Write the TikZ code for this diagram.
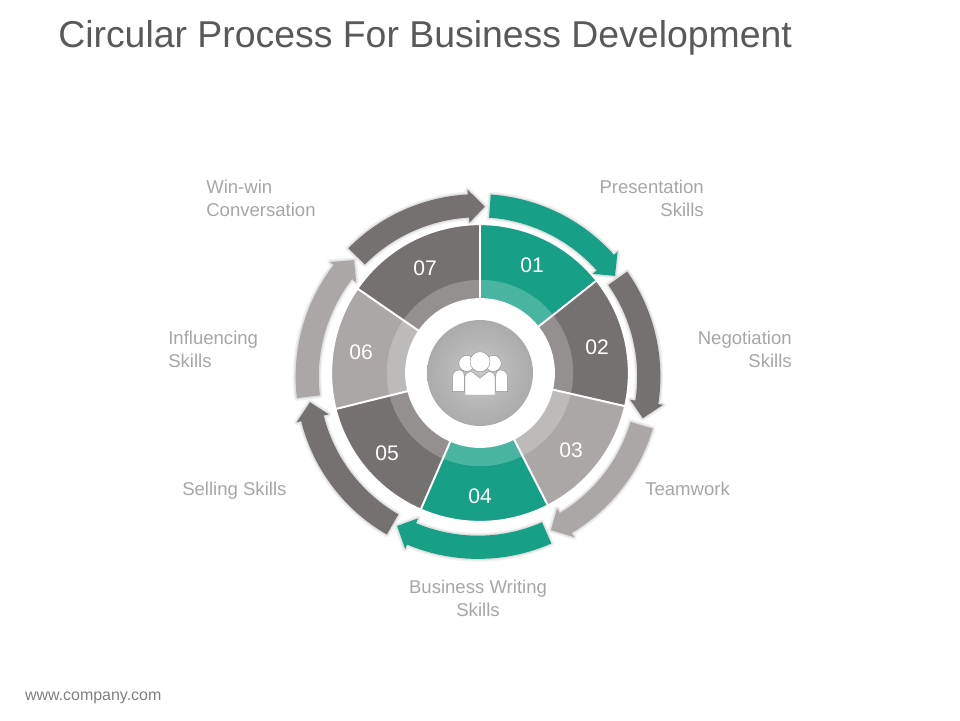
\documentclass[tikz,border=0pt]{standalone}
\usepackage{fontspec}
\setmainfont{Liberation Sans}
\usepackage{xcolor}
\usepackage{tikz}
\definecolor{tealpart}{HTML}{17A085}
\definecolor{darkpart}{HTML}{767171}
\definecolor{lightpart}{HTML}{ABA7A7}
\definecolor{titlegray}{HTML}{595959}
\definecolor{labelgray}{HTML}{A6A6A6}
\definecolor{footgray}{HTML}{7F7F7F}
\tikzset{
    softshadow/.style = {
        preaction={draw=black,opacity=0.05,line width=4pt,line join=round},
        preaction={draw=black,opacity=0.08,line width=2pt,line join=round}},
    mynum/.style = {text=white,font=\fontsize{15}{17}\selectfont},
    mylabel/.style = {text=labelgray,inner sep=0pt,font=\fontsize{13.2}{16.4}\selectfont},
    myperson/.style = {fill=white,draw=black!45,line width=0.3pt},
}
% one sector of the wheel: turn clockwise from the top, its width, its colour
\newcommand{\sectorpart}[3]{
\begin{scope}[shift={(c)},rotate=-#1]
\fill[#3,draw=white,line width=1.3pt] (90:3.72) arc[start angle=90,delta angle=-#2,radius=3.72] -- (90-#2:1.85) arc[start angle=90-#2,delta angle=#2,radius=1.85] -- cycle;
\fill[white,opacity=0.22] (90:2.33) arc[start angle=90,delta angle=-#2,radius=2.33] -- (90-#2:1.87) arc[start angle=90-#2,delta angle=#2,radius=1.87] -- cycle;
\end{scope}
}
% one outer arrow: turn of its tail, its length in degrees, its colour
\newcommand{\arrowpart}[3]{
\begin{scope}[shift={(ca)},rotate=-#1]
\fill[#3,softshadow] (90:3.98) -- (90:4.56) arc[start angle=90,delta angle=-#2+5.5,radius=4.56] -- (95.5-#2:4.68) -- (90-#2:4.25) -- (95.5-#2:3.85) -- (95.5-#2:3.98) arc[start angle=95.5-#2,delta angle=#2-5.5,radius=3.98] -- cycle;
\end{scope}
}
\begin{document}
\begin{tikzpicture}
\useasboundingbox (0,0) rectangle (24,18);
\coordinate (c) at (12.0,8.675);
\coordinate (ca) at (11.95,8.5875);
%
\arrowpart{4}{49.7}{tealpart}
\arrowpart{54.9}{49.3}{darkpart}
\arrowpart{106.6}{48}{lightpart}
\arrowpart{156.3}{52.1}{tealpart}
\arrowpart{210}{51.3}{darkpart}
\arrowpart{263.2}{50}{lightpart}
\arrowpart{314.7}{47.6}{darkpart}
%
\sectorpart{0}{51.6}{tealpart}
\sectorpart{51.6}{51.3}{darkpart}
\sectorpart{102.9}{50}{lightpart}
\sectorpart{152.9}{50.6}{tealpart}
\sectorpart{203.5}{52.5}{darkpart}
\sectorpart{256}{48.6}{lightpart}
\sectorpart{304.6}{55.4}{darkpart}
%
\node[circle,minimum size=2.65cm,inner sep=0pt,inner color=black!22,outer color=black!33] at (c) (hub) {};
%
\begin{scope}[shift={(c)}]
\fill[myperson] (-0.33,0.24) circle (0.2);
\fill[myperson] (0.33,0.24) circle (0.2);
\fill[myperson] (-0.69,-0.467) -- (-0.69,-0.12) .. controls (-0.69,0.03) and (-0.6,0.075) .. (-0.52,0.075) .. controls (-0.44,0.075) and (-0.39,0.03) .. (-0.39,-0.12) -- (-0.39,-0.467) -- cycle;
\fill[myperson] (0.69,-0.467) -- (0.69,-0.12) .. controls (0.69,0.03) and (0.6,0.075) .. (0.52,0.075) .. controls (0.44,0.075) and (0.39,0.03) .. (0.39,-0.12) -- (0.39,-0.467) -- cycle;
\fill[myperson] (-0.375,-0.55) -- (-0.375,-0.1) .. controls (-0.375,0.0) and (-0.3,0.03) .. (-0.2,0.03) -- (0,-0.13) -- (0.2,0.03) .. controls (0.3,0.03) and (0.375,0.0) .. (0.375,-0.1) -- (0.375,-0.55) -- cycle;
\fill[myperson] (0,0.283) circle (0.25);
\end{scope}
%
\node[mynum] at (13.3,11.375) (n1) {01};
\node[mynum] at (14.925,9.325) (n2) {02};
\node[mynum] at (14.275,6.75) (n3) {03};
\node[mynum] at (12.0,5.6) (n4) {04};
\node[mynum] at (9.675,6.675) (n5) {05};
\node[mynum] at (9.025,9.2) (n6) {06};
\node[mynum] at (10.625,11.3) (n7) {07};
%
\node[mylabel,align=right,anchor=east] at (17.6,13.05) (presentation) {Presentation\\Skills};
\node[mylabel,align=right,anchor=east] at (19.8,9.275) (negotiation) {Negotiation\\Skills};
\node[mylabel,anchor=west] at (16.125,5.775) (teamwork) {Teamwork};
\node[mylabel,align=center] at (11.95,3.05) (writing) {Business Writing\\Skills};
\node[mylabel,anchor=west] at (4.55,5.725) (selling) {Selling Skills};
\node[mylabel,align=left,anchor=west] at (4.2,9.275) (influencing) {Influencing\\Skills};
\node[mylabel,align=left,anchor=west] at (5.15,13.05) (winwin) {Win-win\\Conversation};
%
\node[anchor=west,text=titlegray,inner sep=0pt,font=\fontsize{26.6}{30}\selectfont] at (1.45,17.05) (title) {Circular Process For Business Development};
\node[anchor=west,text=footgray,inner sep=0pt,font=\fontsize{11.35}{13}\selectfont] at (0.62,0.55) (footer) {www.company.com};
\end{tikzpicture}
\end{document}
